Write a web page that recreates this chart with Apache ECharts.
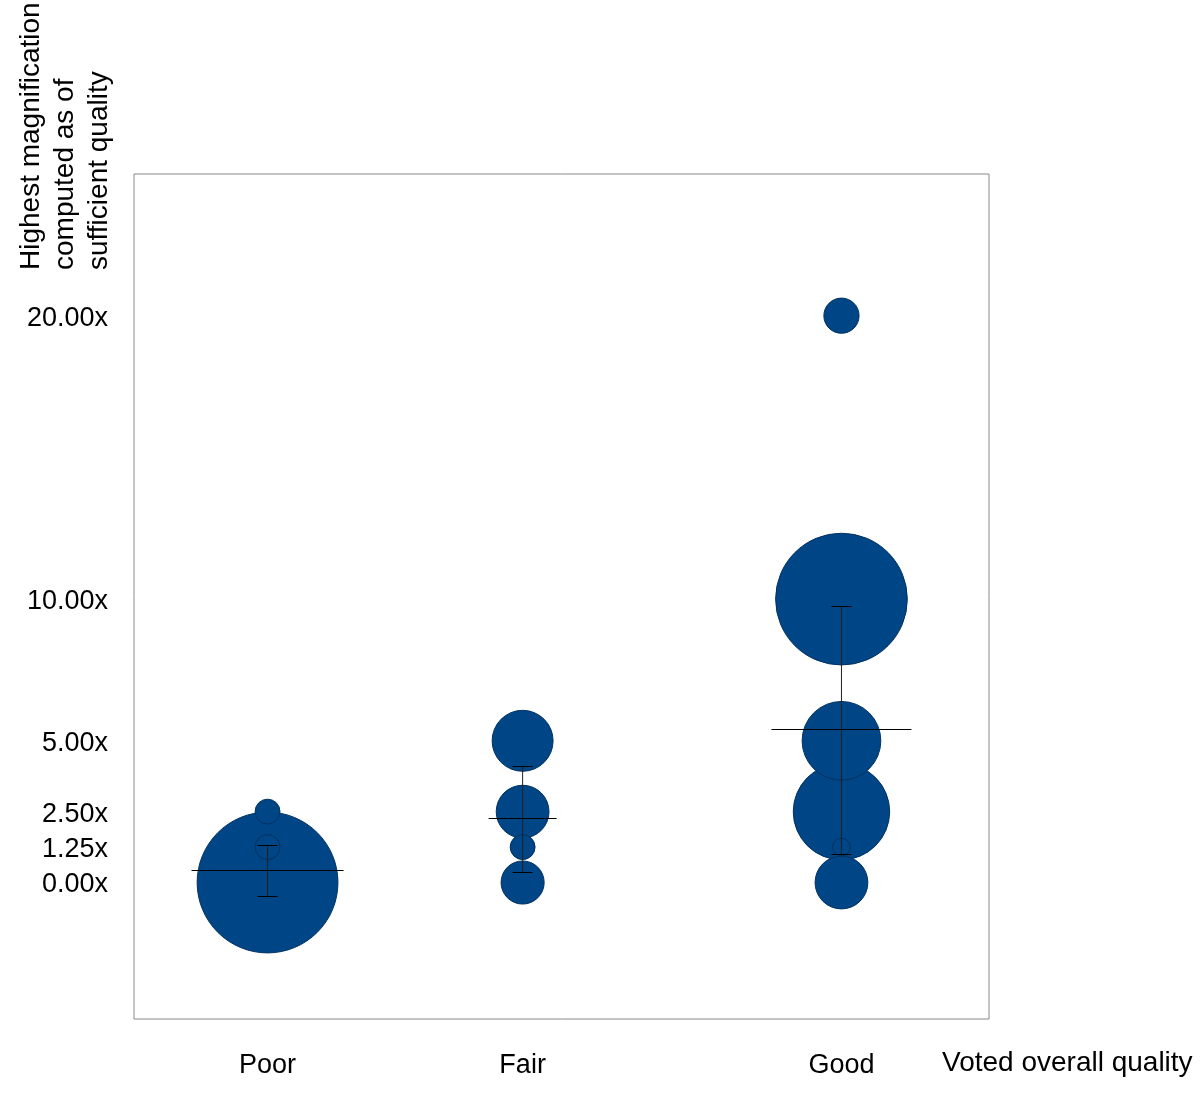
<!DOCTYPE html>
<html>
<head>
<meta charset="utf-8">
<script src="https://cdn.jsdelivr.net/npm/echarts@6/dist/echarts.min.js"></script>
<style>
  html, body { margin: 0; padding: 0; background: #fff; }
  #chart { width: 1200px; height: 1105px; }
</style>
</head>
<body>
<div id="chart"></div>
<script>
// ---- data ----
var categories = ['Poor', 'Fair', 'Good'];
var categoryX = [1, 2, 3.25];
var yTickValues = [0, 1.25, 2.5, 5, 10, 20];
var xAxisTitle = 'Voted overall quality';
var yAxisTitle = 'Highest magnification\ncomputed as of\nsufficient quality';

// bubbles: magnification level and number of votes per quality category
var poorLevels = [0, 1.25, 2.5];
var poorVotes  = [64, 2, 2];
var fairLevels = [0, 1.25, 2.5, 5];
var fairVotes  = [6, 2, 9, 12];
var goodLevels = [0, 1.25, 2.5, 5, 10, 20];
var goodVotes  = [9, 1, 30, 20, 56, 4];

// mean and error range per category
var means  = [0.44, 2.29, 5.40];
var lowers = [-0.48, 0.38, 1.01];
var uppers = [1.32, 4.12, 9.77];

// ---- build ----
function bubbles(ci, levels, votes) {
  return levels.map(function (lv, i) { return [categoryX[ci], lv, votes[i]]; });
}
var bubbleData = []
  .concat(bubbles(0, poorLevels, poorVotes))
  .concat(bubbles(1, fairLevels, fairVotes))
  .concat(bubbles(2, goodLevels, goodVotes));
bubbleData.sort(function (a, b) { return b[2] - a[2]; });

var errData = categories.map(function (c, i) {
  return [categoryX[i], means[i], lowers[i], uppers[i], i];
});

var meanHalfPx = [76, 34, 70];   // style: half-length of mean line per category
var capHalfPx = 10;
var FONT = '"Liberation Sans", Arial, sans-serif';

var chart = echarts.init(document.getElementById('chart'), null, { renderer: 'canvas' });
chart.setOption({
  animation: false,
  backgroundColor: '#ffffff',
  grid: {
    left: 134, top: 174, width: 855, height: 845,
    show: true, borderColor: '#888888', borderWidth: 1, backgroundColor: 'transparent'
  },
  xAxis: {
    type: 'value',
    min: 0.47647, max: 3.8284,
    axisLine: { show: false }, axisTick: { show: false }, splitLine: { show: false },
    axisLabel: {
      customValues: categoryX,
      margin: 33,
      color: '#000', fontSize: 27, fontFamily: FONT,
      formatter: function (v) {
        var idx = categoryX.indexOf(v);
        return idx >= 0 ? categories[idx] : '';
      }
    }
  },
  yAxis: {
    type: 'value',
    min: -4.816, max: 25,
    axisLine: { show: false }, axisTick: { show: false }, splitLine: { show: false },
    axisLabel: {
      customValues: yTickValues,
      margin: 26,
      color: '#000', fontSize: 27, fontFamily: FONT,
      formatter: function (v) { return '{t|' + v.toFixed(2) + 'x}'; },
      rich: {
        t: { fontSize: 27, fontFamily: FONT, color: '#000', padding: [5, 0, 0, 0] }
      }
    }
  },
  graphic: [
    {
      type: 'text', x: 14, y: 270, rotation: Math.PI / 2,
      style: {
        text: yAxisTitle, font: '28px ' + FONT, fill: '#000',
        textAlign: 'left', textVerticalAlign: 'top', lineHeight: 34
      }
    },
    {
      type: 'text', x: 942, y: 1063,
      style: {
        text: xAxisTitle, font: '28px ' + FONT, fill: '#000',
        textAlign: 'left', textVerticalAlign: 'middle'
      }
    }
  ],
  series: [
    {
      type: 'scatter',
      data: bubbleData,
      symbol: 'circle',
      symbolSize: function (val) { return 2 * 8.8 * Math.sqrt(val[2]); },
      itemStyle: { color: '#004586', borderColor: '#00315f', borderWidth: 1, opacity: 1 },
      emphasis: { disabled: true },
      z: 2
    },
    {
      type: 'custom',
      data: errData,
      z: 5,
      renderItem: function (params, api) {
        var x = api.value(0);
        var pm = api.coord([x, api.value(1)]);
        var pl = api.coord([x, api.value(2)]);
        var pu = api.coord([x, api.value(3)]);
        var hw = meanHalfPx[api.value(4)];
        var cx = pm[0];
        var ym = Math.round(pm[1]) + 0.5, yl = Math.round(pl[1]) + 0.5, yu = Math.round(pu[1]) + 0.5;
        var st = { stroke: '#000', lineWidth: 1 };
        return {
          type: 'group',
          children: [
            { type: 'line', shape: { x1: cx, y1: yu, x2: cx, y2: yl }, style: { stroke: '#222', lineWidth: 1 } },
            { type: 'line', shape: { x1: cx - capHalfPx, y1: yu, x2: cx + capHalfPx, y2: yu }, style: st },
            { type: 'line', shape: { x1: cx - capHalfPx, y1: yl, x2: cx + capHalfPx, y2: yl }, style: st },
            { type: 'line', shape: { x1: cx - hw, y1: ym, x2: cx + hw, y2: ym }, style: st }
          ]
        };
      }
    }
  ]
});
</script>
</body>
</html>
